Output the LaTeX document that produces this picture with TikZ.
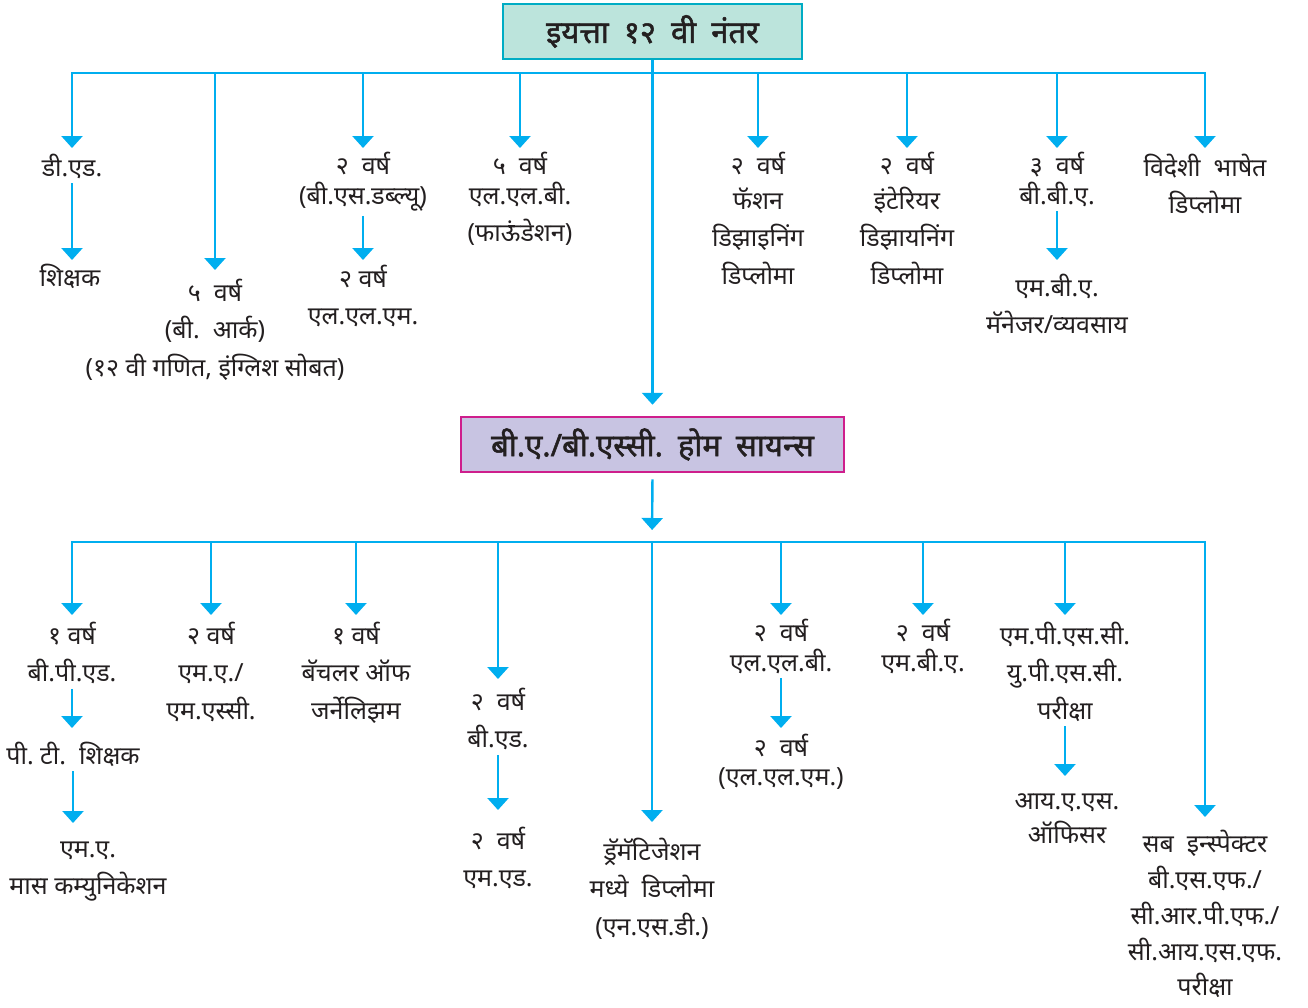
\documentclass[tikz,border=0pt]{standalone}
\usepackage{fontspec}
\newfontfamily\dev[Script=Devanagari]{Noto Sans}
\newfontfamily\devb[Script=Devanagari,FakeBold=1.6]{Noto Sans}
\usetikzlibrary{arrows.meta}
\definecolor{bl}{RGB}{0,174,239}
\definecolor{tfill}{RGB}{188,228,220}
\definecolor{tdraw}{RGB}{0,172,196}
\definecolor{bfill}{RGB}{200,196,226}
\definecolor{bdraw}{RGB}{206,30,140}
\definecolor{ink}{RGB}{35,31,32}
\newcommand\wsp{\hspace{15pt}}
\newcommand\st[1]{\rule{0pt}{#1pt}}
\begin{document}
\begin{tikzpicture}[x=1pt,y=-1pt,
 ln/.style={draw=bl,line width=2.4pt,line join=miter},
 arr/.style={ln,-{Triangle[width=21pt,length=12pt]}},
 arrtwo/.style={ln,{Triangle[width=21pt,length=12pt]}-{Triangle[width=21pt,length=12pt]}},
 txt/.style={font=\dev\fontsize{25}{37.5}\selectfont,align=center,anchor=north,inner sep=0pt,outer sep=0pt,text=ink},
 sub/.style={arr,shorten <=5pt},
 ttl/.style={font=\devb\fontsize{31}{33}\selectfont,inner sep=0pt,line width=2.5pt,text=ink}
]
\useasboundingbox (0,0) rectangle (1308,1007);
\node[ttl,fill=tfill,draw=tdraw,minimum width=299pt,minimum height=55pt] (top) at (652.5,31.5) {इयत्ता\wsp १२\wsp वी\wsp नंतर};
\node[ttl,fill=bfill,draw=bdraw,minimum width=383pt,minimum height=55pt] (ba) at (652.5,444.5) {बी.ए./बी.एस्सी.\wsp होम\wsp सायन्स};
\coordinate (busone) at (652,73);
\coordinate (bustwo) at (652,542);
% top row
\node[txt] (ded) at (72,148) {\st{28}डी.एड.};
\node[txt] (shik) at (70,260) {\st{26}शिक्षक};
\node[txt] (barch) at (215,270) {\st{31}५\ \ वर्ष\\(बी.\ \ आर्क)\\(१२ वी गणित, इंग्लिश सोबत)};
\node[txt] (bsw) at (363,148) {\st{26}२\ \ वर्ष\\[-7.5pt](बी.एस.डब्ल्यू)};
\node[txt] (llm) at (363,260) {\st{27}२ वर्ष\\एल.एल.एम.};
\node[txt] (llbf) at (520,148) {\st{26}५\ \ वर्ष\\[-7.5pt]एल.एल.बी.\\(फाऊंडेशन)};
\node[txt] (fashion) at (758,148) {\st{26}२\ \ वर्ष\\[-2.5pt]फॅशन\\डिझाइनिंग\\डिप्लोमा};
\node[txt] (interior) at (907,148) {\st{26}२\ \ वर्ष\\[-2.5pt]इंटेरियर\\डिझायनिंग\\डिप्लोमा};
\node[txt] (bba) at (1057,148) {\st{26}३\ \ वर्ष\\[-7.5pt]बी.बी.ए.};
\node[txt] (mba) at (1057,260) {\st{36}एम.बी.ए.\\मॅनेजर/व्यवसाय};
\node[txt] (foreign) at (1205,148) {\st{28}विदेशी\ \ भाषेत\\डिप्लोमा};
% bottom row
\node[txt] (bped) at (72,615) {\st{29}१ वर्ष\\बी.पी.एड.};
\node[txt] (pt) at (73,728) {\st{36}पी.\ टी.\ \ शिक्षक};
\node[txt] (mamc) at (88,823) {\st{34}एम.ए.\\मास कम्युनिकेशन};
\node[txt] (masc) at (211,615) {\st{29}२ वर्ष\\एम.ए./\\एम.एस्सी.};
\node[txt] (bj) at (356,615) {\st{29}१ वर्ष\\बॅचलर ऑफ\\जर्नेलिझम};
\node[txt] (bed) at (498,679) {\st{31}२\ \ वर्ष\\बी.एड.};
\node[txt] (med) at (498,810) {\st{39}२\ \ वर्ष\\एम.एड.};
\node[txt] (nsd) at (652,822) {\st{38}ड्रॅमॅटिजेशन\\मध्ये\ \ डिप्लोमा\\(एन.एस.डी.)};
\node[txt] (llbt) at (781,615) {\st{26}२\ \ वर्ष\\[-7.5pt]एल.एल.बी.};
\node[txt] (llmt) at (781,728) {\st{28}२\ \ वर्ष\\[-8.5pt](एल.एल.एम.)};
\node[txt] (mbat) at (923,615) {\st{26}२\ \ वर्ष\\[-7.5pt]एम.बी.ए.};
\node[txt] (mpsc) at (1065,615) {\st{29}एम.पी.एस.सी.\\यु.पी.एस.सी.\\परीक्षा};
\node[txt] (ias) at (1067,776) {\st{33}आय.ए.एस.\\[-3.5pt]ऑफिसर};
\node[txt] (insp) at (1205,817) {\st{35}सब\ \ इन्स्पेक्टर\\[-1.5pt]बी.एस.एफ./\\[-1.5pt]सी.आर.पी.एफ./\\[-1.5pt]सी.आय.एस.एफ.\\[-2pt]परीक्षा};
% connectors
\draw[arr,shorten >=11pt] (top.south) -- (ba.north);
\draw[arrtwo] (ded.north) -- (ded.north |- busone) -- (foreign.north |- busone) -- (foreign.north);
\foreach \n in {barch,bsw,llbf,fashion,interior,bba} \draw[arr] (\n.north |- busone) -- (\n.north);
\draw[arr,shorten <=6pt,shorten >=12pt] (ba.south) -- (bustwo);
\draw[arrtwo] (bped.north) -- (bped.north |- bustwo) -- (insp.north |- bustwo) -- (insp.north);
\foreach \n in {masc,bj,bed,nsd,llbt,mbat,mpsc} \draw[arr] (\n.north |- bustwo) -- (\n.north);
\draw[sub] (ded.south) -- (ded.south |- shik.north);
\draw[sub] (bsw.south) -- (bsw.south |- llm.north);
\draw[sub] (bba.south) -- (bba.south |- mba.north);
\draw[sub] (bped.south) -- (bped.south |- pt.north);
\draw[sub] (pt.south) -- (pt.south |- mamc.north);
\draw[sub] (bed.south) -- (bed.south |- med.north);
\draw[sub] (llbt.south) -- (llbt.south |- llmt.north);
\draw[sub] (mpsc.south) -- (mpsc.south |- ias.north);
\end{tikzpicture}
\end{document}
